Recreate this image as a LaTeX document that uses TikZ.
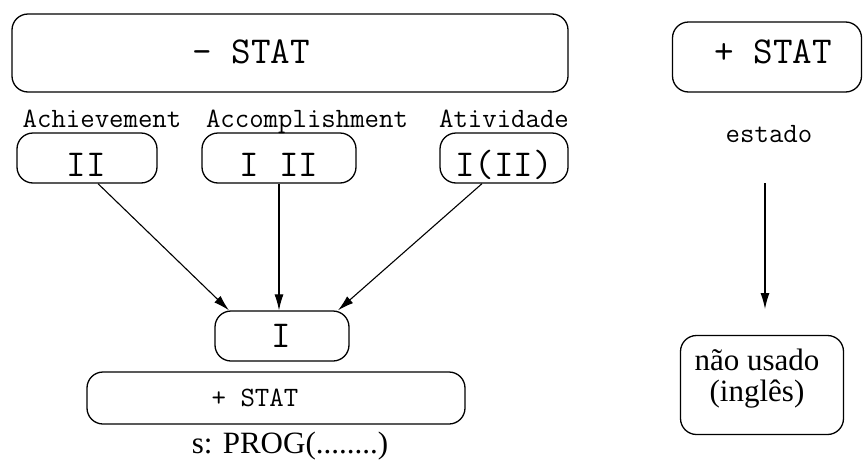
\documentclass[tikz,border=0pt]{standalone}
\usepackage{fontspec}
\setmainfont{Liberation Serif}
\usetikzlibrary{arrows.meta,calc}

% typewriter text uses Latin Modern Mono (the default \ttfamily)
\newcommand\monobig{\ttfamily\fontsize{38}{42}\selectfont}
\newcommand\monosmall{\ttfamily\fontsize{28}{32}\selectfont}
\newcommand\serifbig{\rmfamily\fontsize{31}{30}\selectfont}

\tikzset{
  rbox/.style={draw, line width=1.3pt, rounded corners=16pt, inner sep=0pt},
  txt/.style={inner sep=0pt, anchor=base},
  link/.style={line width=1.1pt, -{Latex[length=16pt,width=9pt]}},
}

\begin{document}
\begin{tikzpicture}[x=1pt,y=-1pt]
\useasboundingbox (0,0) rectangle (863,461);

% upper row: the two main classes
\node[rbox, minimum width=556pt, minimum height=78pt] (nonstat) at (290,53) {};
\node[txt] (nonstat-t) at (251,63) {\monobig - STAT};
\node[rbox, minimum width=189pt, minimum height=70pt] (stat) at (767,57) {};
\node[txt] (stat-t) at (773,63) {\monobig + STAT};

% aspectual classes
\node[txt] (ach) at (102,127) {\monosmall Achievement};
\node[txt] (acc) at (307,127) {\monosmall Accomplishment};
\node[txt] (ati) at (504,127) {\monosmall Atividade};

\node[rbox, minimum width=140pt, minimum height=50pt] (b2) at (87,158) {};
\node[txt] (b2-t) at (86,176) {\monobig II};
\node[rbox, minimum width=154pt, minimum height=50pt] (b12) at (279,158) {};
\node[txt] (b12-t) at (279,176) {\monobig I II};
\node[rbox, minimum width=128pt, minimum height=50pt] (b1p) at (504,158) {};
\node[txt] (b1p-t) at (504,176) {\monobig I(II)};

% common target
\node[rbox, minimum width=134pt, minimum height=50pt] (b1) at (282,336) {};
\node[txt] (b1-t) at (281,347) {\monobig I};

\node[rbox, minimum width=378pt, minimum height=52pt] (pstat) at (276,398) {};
\node[txt] (pstat-t) at (255,406) {\monosmall + STAT};
\node[txt] (prog) at (290,453) {\serifbig s: PROG(........)};

\draw[link] ($(b2.south)+(11,0)$) -- ($(b1.north)+(-53,0)$);
\draw[link] (b12.south) -- (b12.south |- b1.north);
\draw[link] ($(b1p.south)+(-22,0)$) -- ($(b1.north)+(56,0)$);

% right column
\node[txt] (estado) at (769,142) {\monosmall estado};
\node[rbox, minimum width=163pt, minimum height=99pt] (nusado) at (762,385) {};
\node[txt] (nusado-t1) at (757,370) {\serifbig não usado};
\node[txt] (nusado-t2) at (757,401) {\serifbig (inglês)};
\coordinate (arr-top) at (765,183);
\coordinate (arr-end) at (765,309);
\draw[link] (arr-top) -- (arr-end);
\end{tikzpicture}
\end{document}
